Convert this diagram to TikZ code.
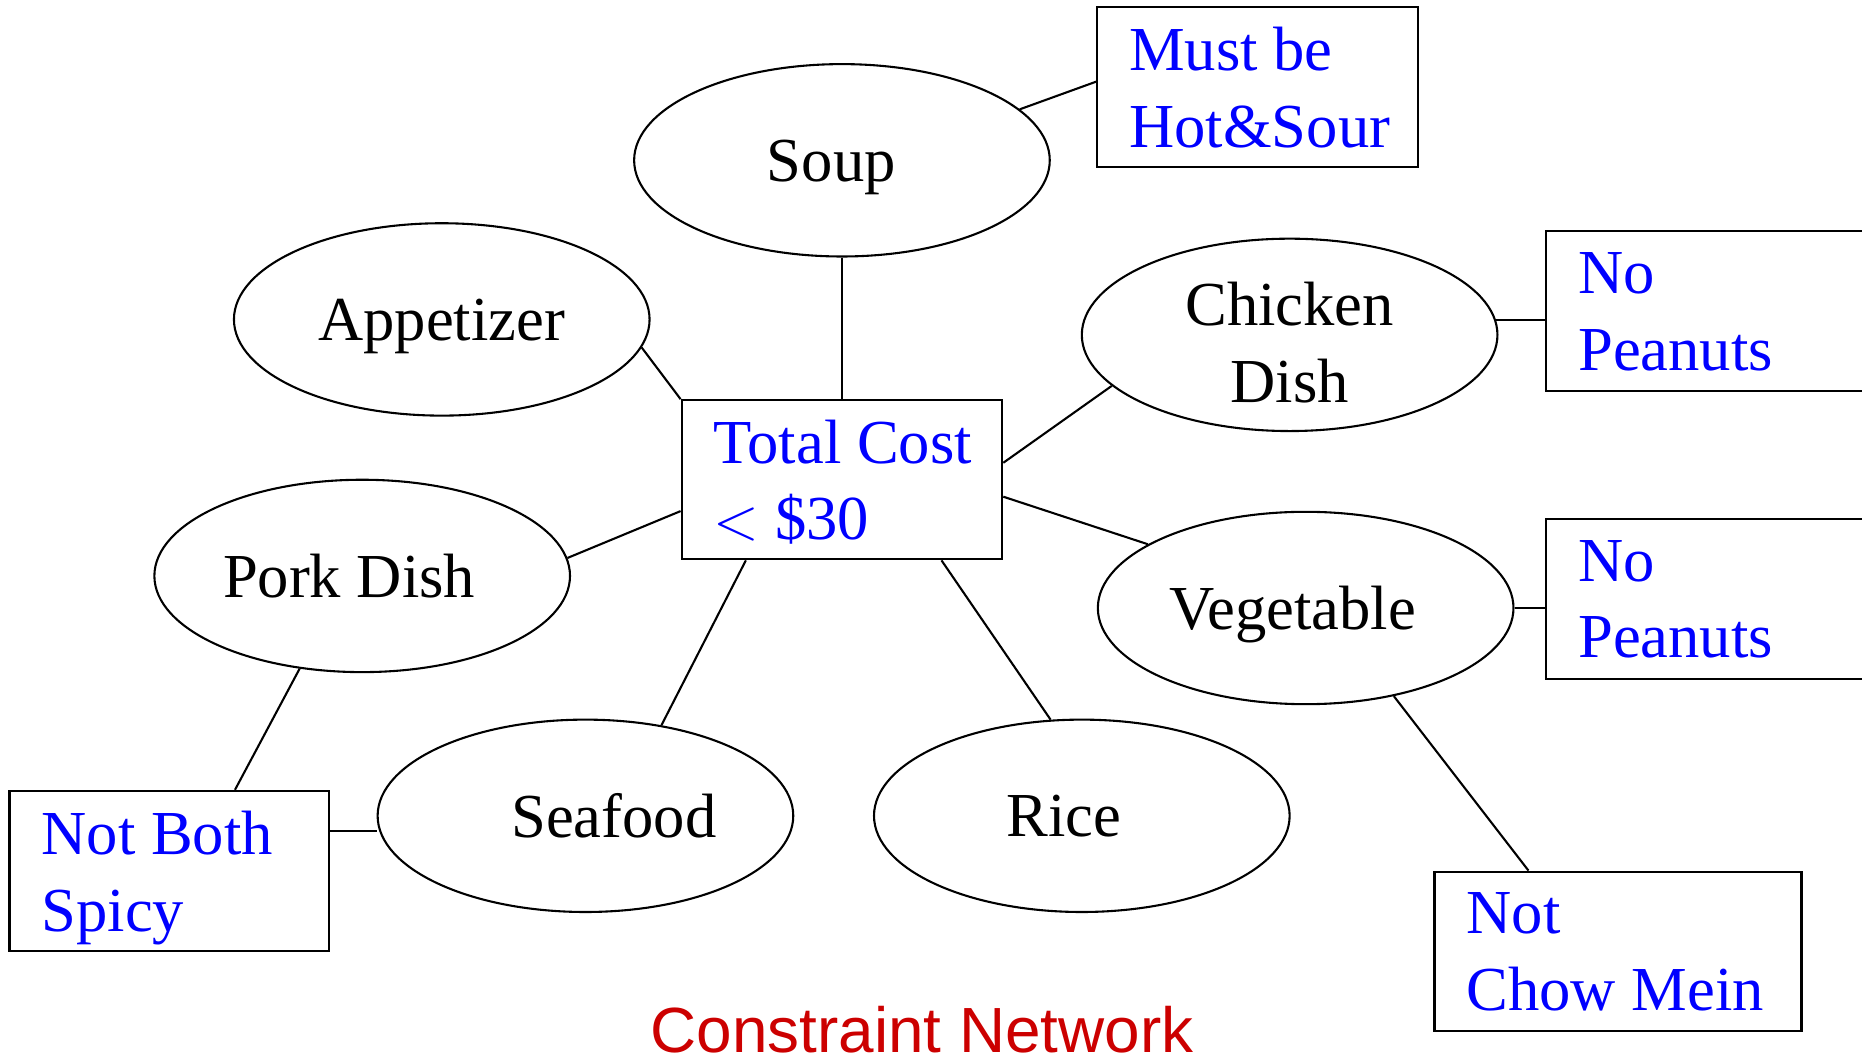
\documentclass[tikz,border=0pt]{standalone}
\usepackage{fontspec}
\setmainfont{Liberation Serif}
\newfontfamily\titlefont{Liberation Sans}
\usetikzlibrary{shapes.geometric}
\definecolor{titlered}{RGB}{204,0,0}
\tikzstyle{var} = [ellipse, draw, minimum width=3.5cm, minimum height=1.62cm, inner sep=0pt, align=center, text depth=0pt]
\tikzstyle{cons} = [rectangle, draw, inner sep=0pt, minimum height=1.35cm, text=blue]
\newcommand{\cbox}[3]{\parbox{#1}{\leftskip=0.27cm #2\par\smash{#3}}}

\begin{document}
\begin{tikzpicture}[line width=0.5pt, font=\fontsize{15}{18.4}\selectfont]
    \useasboundingbox (0,0) rectangle (15.68,8.92);
    \clip (0,0) rectangle (15.68,8.92);
    % variables
    \node (soup) [var] at (7.09,7.57) {Soup\hspace*{0.18cm}};
    \node (appetizer) [var] at (3.72,6.23) {Appetizer};
    \node (chicken) [var, text height=1.14cm] at (10.86,6.10) {Chicken\\Dish};
    \node (pork) [var] at (3.05,4.07) {Pork Dish\hspace*{0.22cm}};
    \node (vegetable) [var] at (10.995,3.80) {Vegetable\hspace*{0.22cm}};
    \node (seafood) [var] at (4.93,2.05) {\hspace*{0.48cm}Seafood};
    \node (rice) [var] at (9.11,2.05) {Rice\hspace*{0.3cm}};
    % constraints
    \node (total) [cons, minimum height=1.34cm] at (7.09,4.88) {\cbox{2.70cm}{Total Cost}{$<$ \$30}};
    \node (hotsour) [cons] at (10.59,8.185) {\cbox{2.70cm}{Must be}{Hot\&Sour}};
    \node (peanutsA) [cons] at (14.47,6.30) {\cbox{2.90cm}{No}{Peanuts}};
    \node (peanutsB) [cons] at (14.47,3.875) {\cbox{2.90cm}{No}{Peanuts}};
    \node (chowmein) [cons, minimum height=1.34cm] at (13.625,0.91) {\cbox{3.09cm}{Not}{Chow Mein}};
    \node (spicy) [cons] at (1.425,1.585) {\cbox{2.69cm}{Not Both}{Spicy}};
    \node (title) [anchor=base, text=titlered, font=\titlefont\fontsize{15.3}{18}\selectfont] at (7.765,0.06) {Constraint Network};
    % edges
    \draw (soup.16) -- (hotsour.178);
    \draw (soup.south) -- (total.north);
    \draw (appetizer.-8) -- (total.north west);
    \draw (chicken.196) -- (total.6);
    \draw (total.-6) -- (vegetable.158);
    \draw (pork.5) -- (total.191);
    \draw (total.220) -- (seafood.50);
    \draw (total.-39) -- (rice.108);
    \draw (chicken.4) -- (chicken.4 -| peanutsA.west);
    \draw (vegetable.east) -- (vegetable.east -| peanutsB.west);
    \draw (vegetable.-45) -- (chowmein.138);
    \draw (pork.236) -- (spicy.51);
    \draw (spicy.14) -- (spicy.14 -| seafood.west);
\end{tikzpicture}
\end{document}
